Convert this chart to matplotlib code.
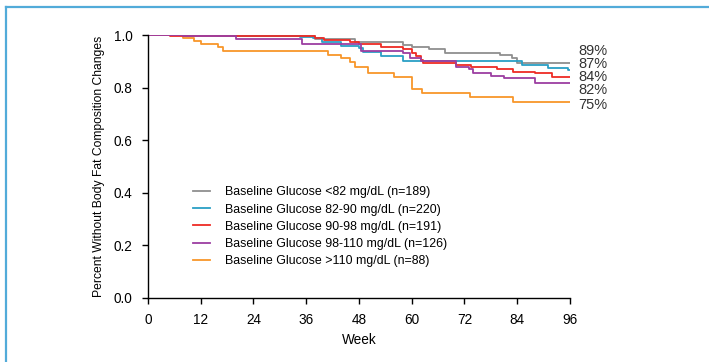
import numpy as np
import matplotlib
matplotlib.use('Agg')
import matplotlib.pyplot as plt
from matplotlib.lines import Line2D

plt.rcParams['font.family'] = ['Liberation Sans', 'DejaVu Sans']

# Kaplan-Meier step data (week, fraction without change)
t_gray = [0, 20, 38, 47, 58, 60, 64, 67.6, 80, 82.8, 84, 96]
s_gray = [1.0, 0.995, 0.985, 0.972, 0.962, 0.953, 0.946, 0.93, 0.925, 0.911, 0.893, 0.893]

t_blue = [0, 16, 34.6, 37.5, 39.5, 44, 48, 49, 53, 58, 85, 91, 95.5, 96]
s_blue = [1.0, 0.997, 0.994, 0.987, 0.975, 0.96, 0.95, 0.934, 0.92, 0.902, 0.886, 0.876, 0.867, 0.867]

t_red = [0, 5, 38, 40, 46, 48, 53, 58, 60, 61, 62, 62.5, 70, 73.5, 79.5, 83, 88, 92, 96]
s_red = [1.0, 0.995, 0.988, 0.98, 0.975, 0.965, 0.955, 0.945, 0.93, 0.92, 0.905, 0.895,
         0.886, 0.88, 0.87, 0.861, 0.854, 0.842, 0.842]

t_purple = [0, 8, 20, 35, 48.5, 58, 59.5, 62, 70, 73, 74, 78, 81, 88, 96]
s_purple = [1.0, 0.995, 0.985, 0.965, 0.94, 0.93, 0.911, 0.902, 0.88, 0.87, 0.854,
            0.844, 0.835, 0.819, 0.819]

t_orange = [0, 8, 10.5, 12, 16, 17, 41, 44, 46, 47, 50, 56, 60, 62.3, 73.3, 83, 96]
s_orange = [1.0, 0.99, 0.977, 0.965, 0.953, 0.94, 0.924, 0.911, 0.899, 0.88, 0.854,
            0.839, 0.794, 0.778, 0.763, 0.746, 0.746]

labels = ['Baseline Glucose <82 mg/dL (n=189)',
          'Baseline Glucose 82-90 mg/dL (n=220)',
          'Baseline Glucose 90-98 mg/dL (n=191)',
          'Baseline Glucose 98-110 mg/dL (n=126)',
          'Baseline Glucose >110 mg/dL (n=88)']
colors = ['#8f8f8f', '#2a9fc5', '#ee2b24', '#9c3ea1', '#f8962a']

end_text = ['89%', '87%', '84%', '82%', '75%']
end_y = [0.94, 0.89, 0.84, 0.789, 0.735]

xticks = [0, 12, 24, 36, 48, 60, 72, 84, 96]
yticks = [0.0, 0.2, 0.4, 0.6, 0.8, 1.0]

fig = plt.figure(figsize=(7.09, 3.62), dpi=100)
ax = fig.add_axes([0.2087, 0.1768, 0.5952, 0.7265])

curves = [(t_gray, s_gray), (t_blue, s_blue), (t_red, s_red),
          (t_purple, s_purple), (t_orange, s_orange)]
# gray first so it sits beneath the others
for i in [4, 0, 1, 2, 3]:
    t, s = curves[i]
    ax.step(t, s, where='post', color=colors[i], linewidth=1.3)

ax.set_xlim(0, 96)
ax.set_ylim(0, 1.0)
ax.set_xticks(xticks)
ax.set_xticklabels([str(x) for x in xticks], fontsize=9.8)
ax.set_yticks(yticks)
ax.set_yticklabels(['%.1f' % y for y in yticks], fontsize=9.8)
ax.tick_params(direction='out', length=4, width=1, color='black', pad=7)
ax.spines['top'].set_visible(False)
ax.spines['right'].set_visible(False)
ax.spines['left'].set_linewidth(1)
ax.spines['bottom'].set_linewidth(1)
ax.set_xlabel('Week', fontsize=9.8, labelpad=4)
ax.set_ylabel('Percent Without Body Fat Composition Changes', fontsize=8.7, labelpad=6)

for txt, y in zip(end_text, end_y):
    ax.text(97.8, y, txt, fontsize=10.5, va='center', ha='left', color='#333333',
            clip_on=False)

handles = [Line2D([0], [0], color=c, linewidth=1.3) for c in colors]
leg = ax.legend(handles, labels, loc='upper left', bbox_to_anchor=(0.1066, 0.424),
                frameon=False, fontsize=8.9, handlelength=1.4, handletextpad=1.2,
                labelspacing=0.416, borderpad=0, borderaxespad=0)

# light blue frame around the panel
frame_col = '#52abd9'
fig.add_artist(Line2D([5.5 / 709, 1.0], [1 - 6.5 / 362, 1 - 6.5 / 362],
                      color=frame_col, linewidth=1.6, transform=fig.transFigure))
fig.add_artist(Line2D([5.5 / 709, 5.5 / 709], [0, 1 - 6.5 / 362],
                      color=frame_col, linewidth=1.6, transform=fig.transFigure))

fig.savefig('out.png', dpi=100)
